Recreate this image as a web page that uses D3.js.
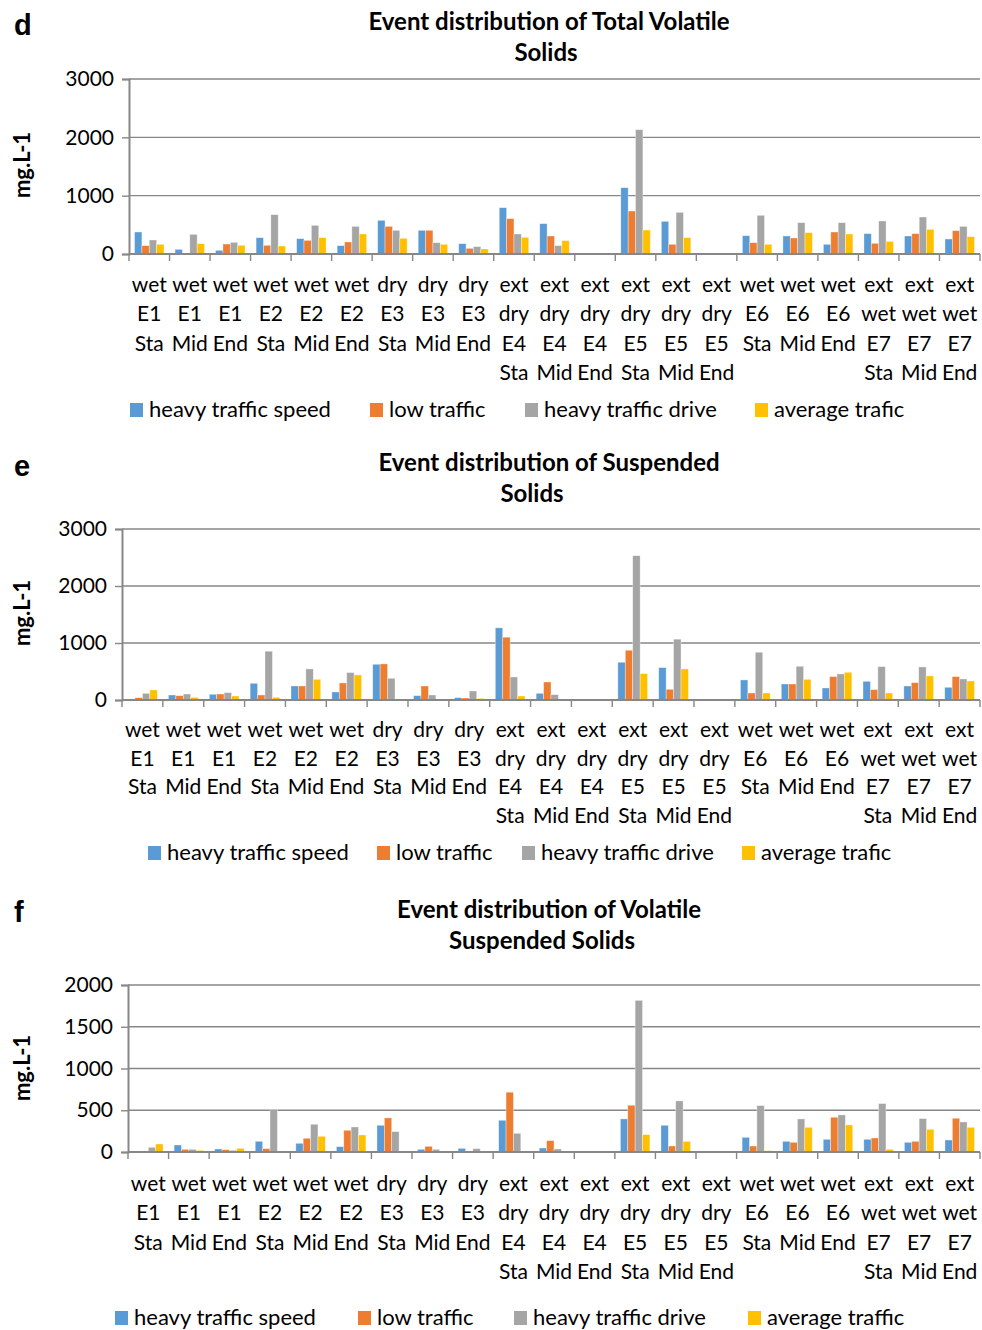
<!DOCTYPE html>
<html>
<head>
<meta charset="utf-8">
<script src="https://cdn.jsdelivr.net/npm/d3@7"></script>
<style>
  body { margin: 0; background: #fff; }
  svg { display: block; }
  text { font-family: Lato, "Open Sans", sans-serif; fill: #000; }
</style>
</head>
<body>
<svg id="svg" width="982" height="1330"></svg>
<script>
// categories (each word goes on its own line under the axis)
const categories = [
  "wet E1 Sta", "wet E1 Mid", "wet E1 End",
  "wet E2 Sta", "wet E2 Mid", "wet E2 End",
  "dry E3 Sta", "dry E3 Mid", "dry E3 End",
  "ext dry E4 Sta", "ext dry E4 Mid", "ext dry E4 End",
  "ext dry E5 Sta", "ext dry E5 Mid", "ext dry E5 End",
  "wet E6 Sta", "wet E6 Mid", "wet E6 End",
  "ext wet E7 Sta", "ext wet E7 Mid", "ext wet E7 End"
];
const seriesNames = ["heavy traffic speed", "low traffic", "heavy traffic drive", "average trafic"];
const seriesNamesF = ["heavy traffic speed", "low traffic", "heavy traffic drive", "average traffic"];
const colors = ["#5B9BD5", "#ED7D31", "#A5A5A5", "#FFC000"];

// d - total volatile solids (mg/L)
const tvsSpeed = [377, 80, 63, 280, 263, 143, 577, 406, 177, 794, 520, 0, 1137, 560, 0, 314, 309, 166, 349, 309, 257];
const tvsLow   = [143, 0, 171, 149, 234, 206, 474, 406, 97, 606, 309, 0, 737, 166, 0, 194, 274, 377, 183, 349, 400];
const tvsDrive = [240, 337, 200, 674, 491, 474, 406, 194, 126, 343, 143, 0, 2131, 714, 0, 663, 537, 537, 566, 634, 474];
const tvsAvg   = [166, 177, 149, 137, 280, 343, 269, 166, 86, 286, 229, 0, 411, 280, 0, 166, 366, 343, 217, 423, 297];

// e - suspended solids (mg/L)
const ssSpeed = [0, 88, 100, 293, 246, 141, 627, 76, 41, 1266, 117, 0, 662, 568, 0, 352, 281, 211, 328, 246, 223];
const ssLow   = [41, 76, 105, 88, 246, 299, 633, 246, 35, 1102, 316, 0, 873, 188, 0, 123, 281, 410, 182, 305, 410];
const ssDrive = [117, 105, 129, 856, 545, 481, 381, 88, 158, 404, 94, 0, 2532, 1067, 0, 838, 592, 457, 586, 580, 369];
const ssAvg   = [176, 47, 70, 47, 363, 440, 18, 0, 29, 70, 0, 0, 463, 545, 0, 123, 363, 486, 123, 422, 334];

// f - volatile suspended solids (mg/L)
const vssSpeed = [0, 84, 36, 128, 104, 64, 320, 32, 44, 380, 48, 0, 396, 320, 0, 176, 128, 152, 152, 116, 144];
const vssLow   = [0, 32, 28, 40, 164, 260, 408, 68, 0, 716, 136, 0, 560, 72, 0, 72, 116, 416, 168, 128, 404];
const vssDrive = [56, 32, 20, 512, 332, 300, 244, 32, 40, 224, 36, 0, 1816, 612, 0, 556, 396, 444, 580, 400, 360];
const vssAvg   = [96, 20, 44, 0, 188, 204, 0, 0, 0, 0, 0, 0, 208, 128, 0, 16, 296, 324, 32, 272, 296];

const svg = d3.select("#svg");
const gridColor = "#878787";

const panels = [
  {
    letter: "d", letterY: 35, title: ["Event distribution of Total Volatile", "Solids"],
    titleX: [549, 546], titleY: [30, 61],
    left: 129, right: 980, top: 79, bottom: 254, yMax: 3000, ticks: [0, 1000, 2000, 3000],
    ylabelY: 165, rowY: 292, rowStep: 29.4,
    legendY: 410, legendX: [130, 370, 525, 755], names: seriesNames,
    values: [tvsSpeed, tvsLow, tvsDrive, tvsAvg]
  },
  {
    letter: "e", letterY: 476, title: ["Event distribution of Suspended", "Solids"],
    titleX: [549, 532], titleY: [471, 502],
    left: 122, right: 980, top: 529, bottom: 700, yMax: 3000, ticks: [0, 1000, 2000, 3000],
    ylabelY: 613, rowY: 737, rowStep: 28.5,
    legendY: 853, legendX: [148, 377, 522, 742], names: seriesNames,
    values: [ssSpeed, ssLow, ssDrive, ssAvg]
  },
  {
    letter: "f", letterY: 922, title: ["Event distribution of Volatile", "Suspended Solids"],
    titleX: [549, 542], titleY: [918, 949],
    left: 128, right: 980, top: 985, bottom: 1152, yMax: 2000, ticks: [0, 500, 1000, 1500, 2000],
    ylabelY: 1068, rowY: 1191, rowStep: 29.3,
    legendY: 1318, legendX: [115, 358, 514, 748], names: seriesNamesF,
    values: [vssSpeed, vssLow, vssDrive, vssAvg]
  }
];

function drawPanel(p) {
  const g = svg.append("g");

  // panel letter
  g.append("text").attr("x", 14).attr("y", p.letterY)
    .style("font-family", "'Liberation Sans', Arial, sans-serif")
    .style("font-weight", "bold").style("font-size", "29px").text(p.letter);

  // title
  p.title.forEach((t, i) => {
    g.append("text").attr("x", p.titleX[i]).attr("y", p.titleY[i])
      .attr("text-anchor", "middle").style("font-weight", "bold").style("font-size", "24px").text(t);
  });

  // y label
  g.append("text").attr("transform", `translate(30,${p.ylabelY}) rotate(-90)`)
    .attr("text-anchor", "middle").style("font-weight", "bold").style("font-size", "22px").text("mg.L-1");

  const y = d3.scaleLinear().domain([0, p.yMax]).range([p.bottom, p.top]);
  const x0 = d3.scaleBand().domain(categories).range([p.left, p.right]).padding(0);
  const bw = x0.bandwidth() / 5.5;
  const x1 = d3.scaleBand().domain(d3.range(4)).range([0.75 * bw, x0.bandwidth() - 0.75 * bw]).padding(0);

  // gridlines
  g.append("g").selectAll("line").data(p.ticks.filter(t => t > 0)).join("line")
    .attr("x1", p.left).attr("x2", p.right)
    .attr("y1", d => y(d)).attr("y2", d => y(d))
    .attr("stroke", gridColor).attr("stroke-width", 1.4);

  // y axis
  const yAxis = g.append("g").attr("transform", `translate(${p.left},0)`)
    .call(d3.axisLeft(y).tickValues(p.ticks).tickSize(7).tickPadding(8).tickFormat(d3.format("d")));
  yAxis.select(".domain").attr("stroke", gridColor).attr("stroke-width", 2);
  yAxis.selectAll(".tick line").attr("stroke", gridColor).attr("stroke-width", 1.4);
  yAxis.selectAll(".tick text").style("font-family", "Lato, sans-serif").style("font-size", "21px").attr("fill", "#000");

  // bars
  const groups = g.append("g").selectAll("g").data(categories).join("g")
    .attr("transform", d => `translate(${x0(d)},0)`);
  groups.selectAll("rect")
    .data((d, ci) => p.values.map((s, si) => ({ si, v: s[ci] })))
    .join("rect")
    .attr("x", d => x1(d.si)).attr("width", x1.bandwidth())
    .attr("y", d => y(d.v)).attr("height", d => y(0) - y(d.v))
    .attr("fill", d => colors[d.si])
    .attr("stroke", "#fff").attr("stroke-opacity", 0.5).attr("stroke-width", 0.7);

  // x axis baseline and ticks at category boundaries
  const bounds = categories.map(c => x0(c)).concat([p.right]);
  g.append("line").attr("x1", p.left).attr("x2", p.right).attr("y1", p.bottom).attr("y2", p.bottom)
    .attr("stroke", gridColor).attr("stroke-width", 2);
  g.append("g").selectAll("line").data(bounds).join("line")
    .attr("x1", d => d).attr("x2", d => d).attr("y1", p.bottom).attr("y2", p.bottom + 7)
    .attr("stroke", gridColor).attr("stroke-width", 1.4);

  // category labels, one word per line
  groups.each(function (d) {
    const words = d.split(" ");
    d3.select(this).selectAll("text.cat").data(words).join("text").attr("class", "cat")
      .attr("x", x0.bandwidth() / 2).attr("y", (w, i) => p.rowY + i * p.rowStep)
      .attr("text-anchor", "middle").style("font-size", "21px").text(w => w);
  });

  // legend
  const lg = g.append("g").selectAll("g").data(p.names).join("g")
    .attr("transform", (d, i) => `translate(${p.legendX[i]},${p.legendY})`);
  lg.append("rect").attr("x", 0).attr("y", -7).attr("width", 13).attr("height", 14)
    .attr("fill", (d, i) => colors[i]);
  lg.append("text").attr("x", 19).attr("y", 7).style("font-size", "22px").text(d => d);
}

panels.forEach(drawPanel);
</script>
</body>
</html>
